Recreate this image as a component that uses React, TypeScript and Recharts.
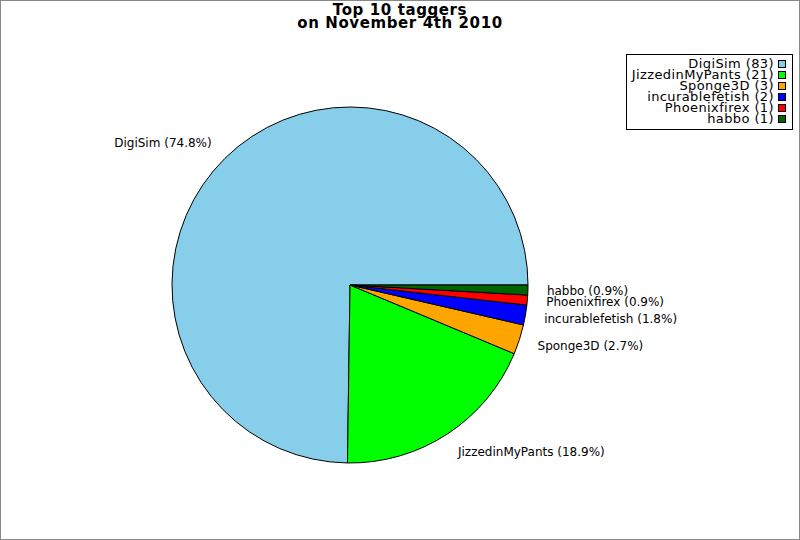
import React from "react";
import { PieChart, Pie, Cell } from "recharts";

const names = ["DigiSim", "JizzedinMyPants", "Sponge3D", "incurablefetish", "Phoenixfirex", "habbo"];
const counts = [83, 21, 3, 2, 1, 1];
const colors = ["#87CEEB", "#00FF00", "#FFA500", "#0000FF", "#FF0000", "#006400"];
const titleLines = ["Top 10 taggers", "on November 4th 2010"];

const data = names.map((n, i) => ({ name: n, value: counts[i] }));
const FONT = "'DejaVu Sans', sans-serif";
const RAD = Math.PI / 180;

const renderLabel = (props: any) => {
  const { cx, cy, midAngle, outerRadius, percent, name } = props;
  const rx = outerRadius + 19;
  const ry = outerRadius + 22;
  const cos = Math.cos(-midAngle * RAD);
  const sin = Math.sin(-midAngle * RAD);
  const x = cx + rx * cos;
  const y = cy + ry * sin;
  return (
    <text
      x={x}
      y={y}
      textAnchor={cos >= 0 ? "start" : "end"}
      dominantBaseline="central"
      fontSize={12}
      fontFamily={FONT}
      fill="#000"
    >
      {`${name} (${(percent * 100).toFixed(1)}%)`}
    </text>
  );
};

export default function App() {
  return (
    <div style={{ position: "relative", width: 800, height: 540, background: "#fff" }}>
      <style>{`body{margin:0;}`}</style>
      <PieChart width={800} height={540} margin={{ top: 0, right: 0, bottom: 0, left: 0 }}>
        <Pie
          data={data}
          dataKey="value"
          nameKey="name"
          cx={350}
          cy={285}
          outerRadius={178}
          startAngle={0}
          endAngle={360}
          stroke="#000"
          strokeWidth={1}
          label={renderLabel}
          labelLine={false}
          isAnimationActive={false}
        >
          {data.map((d, i) => (
            <Cell key={d.name} fill={colors[i]} />
          ))}
        </Pie>
      </PieChart>
      <svg
        width={800}
        height={540}
        style={{ position: "absolute", left: 0, top: 0, pointerEvents: "none" }}
      >
        <rect x={0.5} y={0.5} width={799} height={539} fill="none" stroke="#888" />
        {titleLines.map((t, i) => (
          <text
            key={t}
            x={400}
            y={15 + i * 13}
            textAnchor="middle"
            fontSize={15}
            fontWeight="bold"
            letterSpacing={0.6}
            fontFamily={FONT}
            fill="#000"
          >
            {t}
          </text>
        ))}
        <rect x={626.5} y={54.5} width={166} height={75} fill="#fff" stroke="#000" />
        {names.map((n, i) => (
          <g key={n}>
            <text
              x={774}
              y={68 + i * 11}
              textAnchor="end"
              fontSize={13}
              letterSpacing={0.4}
              fontFamily={FONT}
              fill="#000"
            >
              {`${n} (${counts[i]})`}
            </text>
            <rect x={778.5} y={60.5 + i * 11} width={7} height={7} fill={colors[i]} stroke="#000" />
          </g>
        ))}
      </svg>
    </div>
  );
}
